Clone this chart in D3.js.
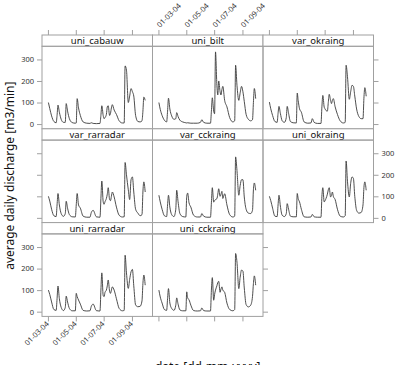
<!DOCTYPE html>
<html>
<head>
<meta charset="utf-8">
<script src="https://cdn.jsdelivr.net/npm/d3@7"></script>
<style>
  body { margin: 0; background: #fff; }
  text { font-family: "Noto Sans", sans-serif; }
</style>
</head>
<body>
<div id="chart"></div>
<script>
// Panel names in lattice order (as.table)
var stations = ["uni_cabauw", "uni_bilt", "var_okraing",
  "var_rarradar", "var_cckraing", "uni_okraing",
  "uni_rarradar", "uni_cckraing"];

// Day offsets from 2004-03-01 where the hydrographs were read
var dayOffsets = [1, 4, 8, 13, 18, 20, 22, 25, 29, 34, 38, 40, 43, 47, 53, 60, 62, 64, 67, 71,
  77, 85, 92, 95, 99, 106, 114, 116, 118, 121, 123, 125, 128, 130, 132, 135, 137, 139, 141, 145,
  150, 156, 163, 167, 169, 172, 176, 179, 182, 185, 188, 192, 197, 202, 206, 208, 210, 213];

// Discharge values [m3/min]
var uniCabauw = [100, 72, 38, 12, 6, 40, 88, 55, 22, 8, 8, 95, 60, 25, 7, 4, 5, 118, 75, 40,
  10, 4, 3, 6, 3, 2, 3, 40, 85, 40, 25, 30, 45, 80, 85, 40, 50, 75, 90, 65,
  45, 15, 5, 5, 270, 250, 100, 130, 165, 150, 130, 40, 12, 10, 15, 60, 125, 110];
var uniBilt = [100, 68, 40, 18, 10, 60, 120, 70, 38, 22, 25, 53, 35, 18, 10, 6, 5, 6, 5, 4,
  4, 4, 8, 20, 8, 4, 4, 60, 122, 60, 48, 335, 180, 135, 200, 150, 135, 160, 175, 110,
  80, 30, 10, 15, 273, 180, 110, 145, 175, 150, 105, 45, 22, 15, 20, 100, 165, 118];
var varOkraing = [102, 71, 40, 12, 8, 50, 82, 50, 15, 8, 30, 82, 50, 12, 6, 5, 144, 110, 71, 55,
  10, 4, 5, 25, 8, 3, 3, 80, 133, 79, 70, 63, 60, 100, 138, 110, 95, 110, 118, 80,
  45, 15, 5, 8, 273, 220, 115, 150, 180, 175, 130, 70, 35, 25, 25, 120, 169, 129];
var varRarradar = [100, 78, 40, 10, 6, 60, 113, 60, 20, 7, 20, 77, 45, 15, 5, 4, 60, 113, 60, 45,
  8, 3, 3, 25, 35, 5, 3, 90, 171, 75, 63, 75, 90, 110, 140, 85, 80, 100, 120, 97,
  50, 12, 4, 5, 257, 200, 130, 85, 177, 190, 120, 40, 22, 10, 15, 120, 167, 120];
var varCckraing = [105, 74, 40, 10, 6, 60, 105, 50, 15, 6, 40, 128, 75, 20, 6, 4, 100, 115, 70, 50,
  12, 4, 4, 20, 8, 3, 3, 70, 140, 73, 80, 85, 89, 110, 135, 100, 110, 123, 90, 112,
  60, 15, 4, 8, 283, 220, 105, 150, 177, 177, 97, 40, 22, 20, 35, 130, 162, 128];
var uniOkraing = [100, 80, 45, 8, 6, 60, 105, 55, 12, 6, 20, 66, 40, 8, 5, 5, 113, 90, 74, 40,
  5, 3, 4, 16, 5, 3, 3, 100, 140, 74, 80, 90, 110, 130, 140, 97, 105, 120, 100, 85,
  40, 8, 4, 10, 264, 170, 97, 160, 190, 183, 100, 35, 22, 25, 60, 140, 167, 128];
var uniRarradar = [100, 80, 45, 10, 6, 60, 119, 60, 20, 5, 20, 72, 45, 15, 4, 4, 85, 70, 54, 35,
  6, 3, 4, 25, 35, 5, 3, 100, 180, 75, 70, 90, 100, 120, 147, 95, 85, 100, 115, 100,
  60, 15, 4, 6, 262, 180, 108, 150, 185, 196, 120, 31, 23, 25, 50, 130, 170, 123];
var uniCckraing = [100, 68, 40, 10, 6, 60, 107, 40, 15, 6, 30, 64, 35, 8, 4, 4, 92, 64, 55, 30,
  5, 3, 4, 17, 5, 3, 3, 100, 158, 53, 80, 100, 120, 135, 141, 90, 105, 115, 100, 90,
  40, 10, 4, 10, 270, 230, 107, 160, 193, 188, 110, 33, 22, 30, 70, 130, 166, 123];

var seriesValues = [uniCabauw, uniBilt, varOkraing, varRarradar,
  varCckraing, uniOkraing, uniRarradar, uniCckraing];

var yTicks = [0, 100, 200, 300];
var xTickDates = ["2004-03-01", "2004-05-01", "2004-07-01", "2004-09-01"];

var svgWidth = 396;
var svgHeight = 365;

// lattice layout
var left = 42;
var top0 = 35;
var panelW = 110.5;
var stripH = 11.3;
var panelH = 82.5;
var rowH = stripH + panelH;
var nCol = 3;

var borderColor = "#a0a0a0";
var lineColor = "#3a3a3a";
var labelColor = "#333";

var svg = d3
  .select("#chart")
  .append("svg")
  .attr("width", svgWidth)
  .attr("height", svgHeight);

var parseDate = d3.timeParse("%Y-%m-%d");
var startDate = parseDate("2004-03-01");

var xScale = d3.scaleTime()
  .domain([parseDate("2004-02-17"), parseDate("2004-10-16")])
  .range([0, panelW]);

var yScale = d3.scaleLinear()
  .domain([-22, 361])
  .range([panelH, 0]);

var line = d3.line()
  .x(d => xScale(d.date))
  .y(d => yScale(d.value))
  .curve(d3.curveMonotoneX);

var fmt = d3.timeFormat("%d-%m-%y");
var xTicks = xTickDates.map(parseDate);

function styleAxis(g) {
  g.select(".domain").remove();
  g.selectAll("line").attr("stroke", borderColor);
  g.selectAll("text")
    .attr("fill", labelColor)
    .attr("font-size", "7.5px")
    .attr("font-family", "Noto Sans, sans-serif");
}

stations.forEach(function(name, i) {
  var col = i % nCol;
  var row = Math.floor(i / nCol);
  var px = left + col * panelW;
  var py = top0 + row * rowH;

  var g = svg.append("g")
    .attr("transform", `translate(${px}, ${py})`);

  // strip
  g.append("rect")
    .attr("width", panelW)
    .attr("height", stripH)
    .attr("fill", "#fff")
    .attr("stroke", borderColor);

  g.append("text")
    .attr("x", panelW / 2)
    .attr("y", stripH / 2 + 3.5)
    .attr("text-anchor", "middle")
    .attr("font-size", "9.5px")
    .attr("fill", "#111")
    .text(name);

  var body = g.append("g")
    .attr("transform", `translate(0, ${stripH})`);

  body.append("rect")
    .attr("width", panelW)
    .attr("height", panelH)
    .attr("fill", "none")
    .attr("stroke", borderColor);

  var data = dayOffsets.map((d, k) => ({
    date: d3.timeDay.offset(startDate, d),
    value: seriesValues[i][k]
  }));

  body.append("path")
    .datum(data)
    .attr("fill", "none")
    .attr("stroke", lineColor)
    .attr("stroke-width", 0.9)
    .attr("d", line);

  // y axes: left labels on rows 1 and 3, right labels on row 2
  if (col === 0) {
    var leftAxis = d3.axisLeft(yScale).tickValues(yTicks).tickSize(5).tickPadding(3);
    if (row === 1) leftAxis.tickFormat("");
    body.append("g").call(leftAxis).call(styleAxis);
  }
  var lastInRow = (col === nCol - 1) || (i === stations.length - 1);
  if (lastInRow) {
    var rightAxis = d3.axisRight(yScale).tickValues(yTicks).tickSize(5).tickPadding(3);
    if (row !== 1) rightAxis.tickFormat("");
    body.append("g")
      .attr("transform", `translate(${panelW}, 0)`)
      .call(rightAxis).call(styleAxis);
  }

  // top x axis, labelled on the middle column
  if (row === 0) {
    var topAxis = d3.axisTop(xScale).tickValues(xTicks).tickSize(5).tickFormat("");
    var tg = g.append("g").call(topAxis).call(styleAxis);
    if (col === 1) {
      tg.selectAll(".tick").append("text")
        .attr("transform", "translate(1, -7) rotate(-45)")
        .attr("text-anchor", "start")
        .attr("fill", labelColor)
        .attr("font-size", "7.5px")
        .text(d => fmt(d));
    }
  }

  // bottom x axis, labelled on the first column
  if (row === 2) {
    var bottomAxis = d3.axisBottom(xScale).tickValues(xTicks).tickSize(5).tickFormat("");
    var bg = body.append("g")
      .attr("transform", `translate(0, ${panelH})`)
      .call(bottomAxis).call(styleAxis);
    if (col === 0) {
      bg.selectAll(".tick").append("text")
        .attr("transform", "translate(1, 8) rotate(-45)")
        .attr("text-anchor", "end")
        .attr("fill", labelColor)
        .attr("font-size", "7.5px")
        .text(d => fmt(d));
    }
  }
});

// axis titles
svg.append("text")
  .attr("transform", `translate(14, ${top0 + 1.5 * rowH}) rotate(-90)`)
  .attr("text-anchor", "middle")
  .attr("font-size", "12px")
  .attr("fill", "#111")
  .text("average daily discharge [m3/min]");

// x title sits mostly below the visible area, as in the reference
svg.append("text")
  .attr("x", left + 1.5 * panelW)
  .attr("y", 371)
  .attr("text-anchor", "middle")
  .attr("font-size", "12px")
  .attr("fill", "#111")
  .text("date [dd-mm-yyyy]");
</script>
</body>
</html>
